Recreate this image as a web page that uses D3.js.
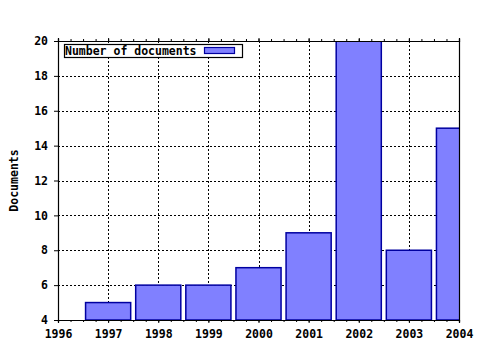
<!DOCTYPE html>
<html>
<head>
<meta charset="utf-8">
<script src="https://cdn.jsdelivr.net/npm/d3@7"></script>
<style>
  body { margin: 0; background: #fff; }
  text { font-family: "DejaVu Sans Mono", monospace; font-weight: bold; font-size: 11.5px; fill: #000; }
</style>
</head>
<body>
<div id="chart"></div>
<script>
// data
const years = [1997, 1998, 1999, 2000, 2001, 2002, 2003, 2004]
const docs = [5, 6, 6, 7, 9, 20, 8, 15]
const xTicks = [1996, 1997, 1998, 1999, 2000, 2001, 2002, 2003, 2004]
const yTicks = [4, 6, 8, 10, 12, 14, 16, 18, 20]

const width = 480
const height = 350
const pLeft = 58, pRight = 459, pTop = 41, pBottom = 320

const x = d3.scaleLinear().domain([1996, 2004]).range([pLeft, pRight])
const y = d3.scaleLinear().domain([4, 20]).range([pBottom, pTop])

const svg = d3.select("#chart").append("svg")
  .attr("width", width)
  .attr("height", height)

svg.append("clipPath").attr("id", "plot")
  .append("rect")
  .attr("x", pLeft).attr("y", pTop)
  .attr("width", pRight - pLeft).attr("height", pBottom - pTop)

// dotted grid
const grid = svg.append("g")
  .attr("stroke", "#000")
  .attr("stroke-dasharray", "2,2")
  .attr("shape-rendering", "crispEdges")
grid.selectAll(".gx")
  .data(xTicks.slice(1, -1))
  .enter().append("line")
  .attr("x1", d => Math.round(x(d)) + 0.5).attr("x2", d => Math.round(x(d)) + 0.5)
  .attr("y1", pTop).attr("y2", pBottom)
grid.selectAll(".gy")
  .data(yTicks.slice(1, -1))
  .enter().append("line")
  .attr("x1", pLeft).attr("x2", pRight)
  .attr("y1", d => Math.round(y(d)) + 0.5).attr("y2", d => Math.round(y(d)) + 0.5)

// bars
const bw = x(1996.9) - x(1996)
svg.append("g")
  .attr("clip-path", "url(#plot)")
  .selectAll("rect")
  .data(years)
  .enter().append("rect")
  .attr("x", (d, i) => x(d) - bw / 2)
  .attr("y", (d, i) => y(docs[i]))
  .attr("width", bw)
  .attr("height", (d, i) => pBottom - y(docs[i]))
  .attr("fill", "#8080ff")
  .attr("stroke", "#0000a0")
  .attr("stroke-width", 1.5)

// axes
const minor = d3.range(1996, 2004.01, 0.25)

const xAxis = d3.axisBottom(x).tickValues(xTicks).tickFormat(d3.format("d")).tickSize(3).tickPadding(7)
const xMinor = d3.axisBottom(x).tickValues(minor).tickFormat("").tickSize(2)
const xTop = d3.axisTop(x).tickValues(xTicks).tickFormat("").tickSize(3)
const xTopMinor = d3.axisTop(x).tickValues(minor).tickFormat("").tickSize(2)
const yAxis = d3.axisLeft(y).tickValues(yTicks).tickSize(4).tickPadding(6)
const yRight = d3.axisRight(y).tickValues(yTicks).tickFormat("").tickSize(0)

svg.append("g").attr("transform", `translate(0,${pBottom})`).call(xMinor)
svg.append("g").attr("transform", `translate(0,${pBottom})`).call(xAxis)
svg.append("g").attr("transform", `translate(0,${pTop})`).call(xTopMinor)
svg.append("g").attr("transform", `translate(0,${pTop})`).call(xTop)
svg.append("g").attr("transform", `translate(${pLeft},0)`).call(yAxis)
svg.append("g").attr("transform", `translate(${pRight},0)`).call(yRight)

svg.selectAll(".domain").attr("stroke", "#000").attr("stroke-width", 1.2)
svg.selectAll(".tick line").attr("stroke", "#000")
svg.selectAll(".tick text")
  .style("font-family", '"DejaVu Sans Mono", monospace')
  .style("font-weight", "bold")
  .style("font-size", "11.5px")

// y label
svg.append("text")
  .attr("transform", `translate(18,${(pTop + pBottom) / 2}) rotate(-90)`)
  .attr("text-anchor", "middle")
  .text("Documents")

// legend
const lg = svg.append("g")
lg.append("rect")
  .attr("x", 64.5).attr("y", 44.5)
  .attr("width", 178).attr("height", 13)
  .attr("fill", "#fff").attr("stroke", "#000").attr("stroke-width", 1.2)
lg.append("text")
  .attr("x", 65).attr("y", 55)
  .text("Number of documents")
lg.append("rect")
  .attr("x", 204.5).attr("y", 47.5)
  .attr("width", 30).attr("height", 6)
  .attr("fill", "#8080ff").attr("stroke", "#0000a0").attr("stroke-width", 1.2)
</script>
</body>
</html>
